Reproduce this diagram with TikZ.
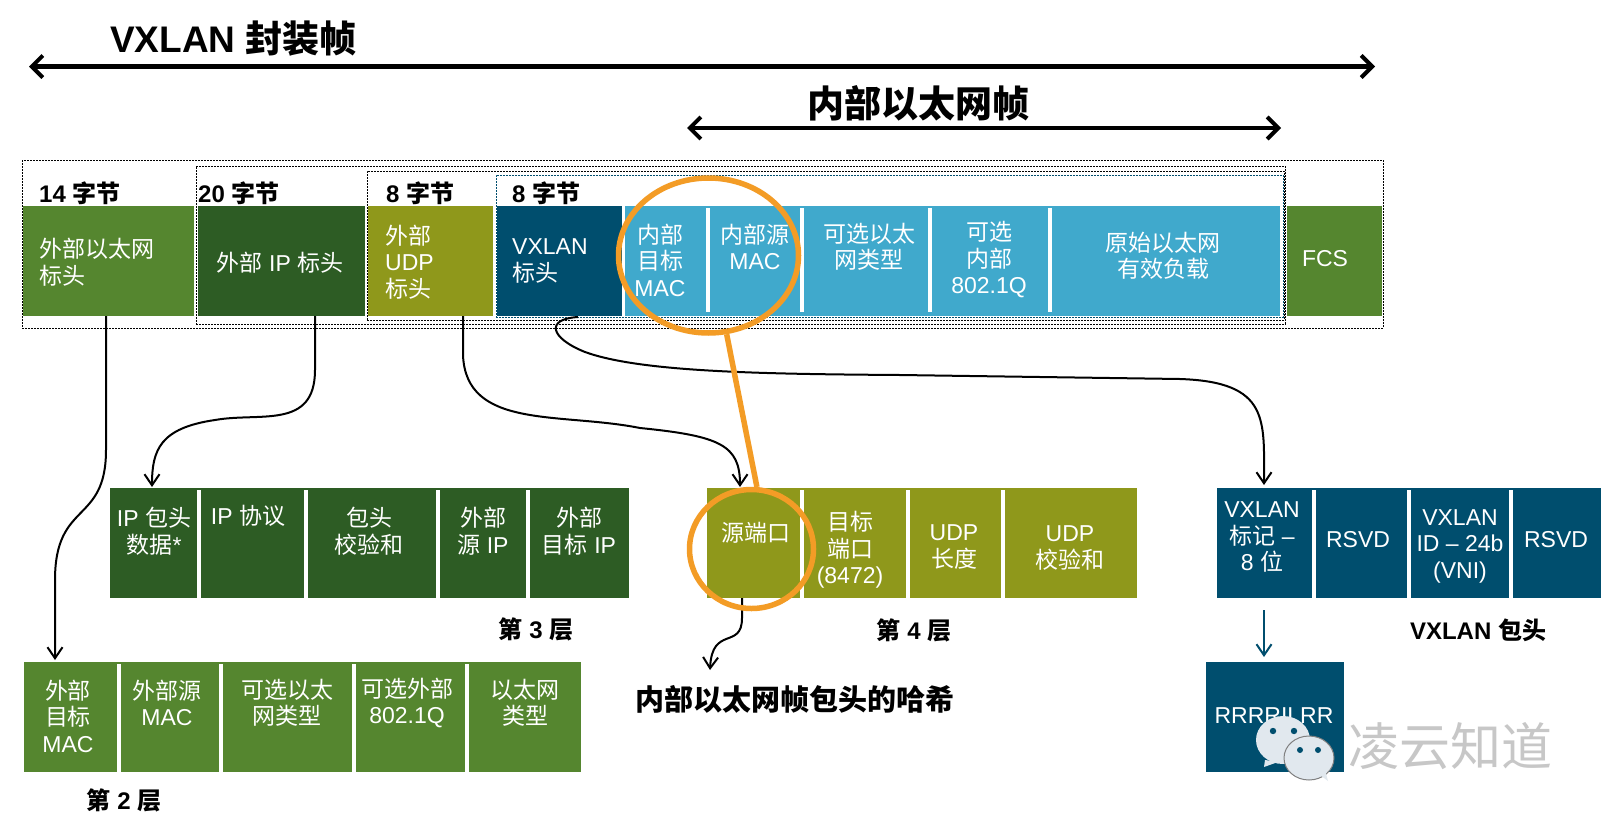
\documentclass[tikz,border=0pt]{standalone}
\usepackage{fontspec}
\setmainfont{Liberation Sans}
\newfontfamily\cjk{Noto Sans CJK SC}
\usetikzlibrary{arrows.meta,shapes.geometric}
\newcommand\C[1]{{\cjk #1}}
\definecolor{lgreen}{HTML}{55862F}
\definecolor{dgreen}{HTML}{2D5C24}
\definecolor{olive}{HTML}{8F981B}
\definecolor{navy}{HTML}{004E6E}
\definecolor{lblue}{HTML}{40A9CC}
\definecolor{orng}{HTML}{F39C26}
\definecolor{bubble}{HTML}{E1E8EE}
\tikzset{
  cellbox/.style={draw=none,inner sep=0pt,outer sep=0pt},
  celltext/.style={inner sep=0pt,align=center,text=white,font=\fontsize{23}{26.5}\selectfont},
  lefttext/.style={inner sep=0pt,align=left,anchor=west,text=white,font=\fontsize{23}{26.5}\selectfont},
  sizelabel/.style={inner sep=0pt,anchor=west,font=\bfseries\fontsize{24}{28}\selectfont},
  caption/.style={inner sep=0pt,font=\bfseries\fontsize{24}{28}\selectfont},
  bigtitle/.style={inner sep=0pt,font=\bfseries\fontsize{37}{42}\selectfont},
  dashbox/.style={draw=black,line width=0.8pt,dash pattern=on 2pt off 1pt,inner sep=0pt,fill=none},
  conn/.style={draw=black,line width=2pt,-{Straight Barb[length=11pt,width=15pt,line width=2pt]}},
  span/.style={draw=black,line width=4.5pt,{Straight Barb[length=11pt,width=22pt,line width=4pt]}-{Straight Barb[length=11pt,width=22pt,line width=4pt]}},
  hoop/.style={draw=orng,line width=5.5pt,ellipse,inner sep=0pt,fill=none},
}
\newcommand\Cell[6]{\node[cellbox,fill=#6,minimum width={(#4-#2)*1pt},minimum height={(#5-#3)*1pt}] (#1) at ({(#2+#4)/2},{(#3+#5)/2}) {};}
\newcommand\Sep[3]{\fill[white] (#1-2,#2) rectangle (#1+2,#3);}
\newcommand\Dash[5]{\node[dashbox,minimum width={(#4-#2)*1pt},minimum height={(#5-#3)*1pt}] (#1) at ({(#2+#4)/2},{(#3+#5)/2}) {};}
\begin{document}
\begin{tikzpicture}[x=1pt,y=-1pt]
\useasboundingbox (0,0) rectangle (1607,830);
\fill[white] (0,0) rectangle (1607,830);
% dashed frames
\Dash{fa}{22}{160.5}{1383}{328}
\Dash{fb}{196}{166}{1285}{324}
\Dash{fc}{367}{171}{1284}{320}
\node[dashbox,draw=navy,minimum width=787pt,minimum height=142pt] (fd) at (889.5,246) {};
% top row
\Cell{eth}{23}{206}{194}{316}{lgreen}
\Cell{ip}{197.5}{206}{365}{316}{dgreen}
\Cell{udp}{368}{206}{493}{316}{olive}
\Cell{vx}{496.5}{206}{622}{316}{navy}
\Cell{inner}{625}{206}{1280}{316}{lblue}
\Cell{fcs}{1287}{206}{1382}{316}{lgreen}
\Sep{708}{208}{312}\Sep{802}{208}{312}\Sep{930}{208}{312}\Sep{1050}{208}{312}
% L3 row
\Cell{rowip}{110}{488}{629}{598}{dgreen}
\Sep{199}{490}{598}\Sep{305.5}{490}{598}\Sep{438}{490}{598}\Sep{528}{490}{598}
% L4 row
\Cell{rowudp}{707}{488}{1137}{598}{olive}
\Sep{802}{490}{598}\Sep{908}{490}{598}\Sep{1003}{490}{598}
% VXLAN row
\Cell{rowvx}{1217}{488}{1601}{598}{navy}
\Sep{1314}{490}{598}\Sep{1409}{490}{598}\Sep{1511}{490}{598}
% L2 row
\Cell{roweth}{24}{662}{581}{772}{lgreen}
\Sep{119}{664}{772}\Sep{221}{664}{772}\Sep{354}{664}{772}\Sep{467}{664}{772}
% flags
\Cell{flags}{1206}{662}{1344}{772}{navy}
% spans
\coordinate (v1) at (29,66.5); \coordinate (v2) at (1375,66.5);
\coordinate (i1) at (687,128); \coordinate (i2) at (1281,128);
\draw[span] (v1) -- (v2);
\draw[span] (i1) -- (i2);
\node[bigtitle,anchor=west] (tv) at (110,39) {VXLAN \C{封装帧}};
\node[bigtitle] (ti) at (918,103) {\C{内部以太网帧}};
% size labels
\node[sizelabel] (s1) at (39,193) {14 \C{字节}};
\node[sizelabel] (s2) at (198,193) {20 \C{字节}};
\node[sizelabel] (s3) at (386,193) {8 \C{字节}};
\node[sizelabel] (s4) at (512,193) {8 \C{字节}};
% top-row text
\node[lefttext] (a1) at (39,262) {\C{外部以太网}\\\C{标头}};
\node[celltext] (a2) at (280,263) {\C{外部} IP \C{标头}};
\node[lefttext] (a3) at (385,262) {\C{外部}\\UDP\\\C{标头}};
\node[lefttext] (a4) at (512,261) {VXLAN\\\C{标头}};
\node[celltext] (a5) at (660,260) {\C{内部}\\\C{目标}\\MAC};
\node[celltext] (a6) at (755,247) {\C{内部源}\\MAC};
\node[celltext] (a7) at (869,247) {\C{可选以太}\\\C{网类型}};
\node[celltext] (a8) at (989,260) {\C{可选}\\\C{内部}\\802.1Q};
\node[celltext] (a9) at (1163,256) {\C{原始以太网}\\\C{有效负载}};
\node[celltext] (a10) at (1325,259) {FCS};
% L3 text
\node[celltext] (b1) at (154,531) {IP \C{包头}\\\C{数据}*};
\node[celltext] (b2) at (248,516) {IP \C{协议}};
\node[celltext] (b3) at (369,531) {\C{包头}\\\C{校验和}};
\node[celltext] (b4) at (483,531) {\C{外部}\\\C{源} IP};
\node[celltext] (b5) at (579,531) {\C{外部}\\\C{目标} IP};
% L4 text
\node[celltext] (c1) at (756,533) {\C{源端口}};
\node[celltext] (c2) at (850,550) {\C{目标}\\\C{端口}\\(8472)};
\node[celltext] (c3) at (954,547) {UDP\\\C{长度}};
\node[celltext] (c4) at (1070,548) {UDP\\\C{校验和}};
% VXLAN text
\node[celltext] (d1) at (1262,537) {VXLAN\\\C{标记} –\\8 \C{位}};
\node[celltext] (d2) at (1358,540) {RSVD};
\node[celltext] (d3) at (1460,546) {VXLAN\\ID – 24b\\(VNI)};
\node[celltext] (d4) at (1556,540) {RSVD};
% L2 text
\node[celltext] (e1) at (68,716) {\C{外部}\\\C{目标}\\MAC};
\node[celltext] (e2) at (167,703) {\C{外部源}\\MAC};
\node[celltext] (e3) at (287,703) {\C{可选以太}\\\C{网类型}};
\node[celltext] (e4) at (407,703) {\C{可选外部}\\802.1Q};
\node[celltext] (e5) at (525,703) {\C{以太网}\\\C{类型}};
\node[celltext] (f1) at (1274,716) {RRRRILRR};
% captions
\node[caption] (g3) at (536,629) {\C{第} 3 \C{层}};
\node[caption] (g4) at (914,630) {\C{第} 4 \C{层}};
\node[caption] (gv) at (1478,630) {VXLAN \C{包头}};
\node[caption] (g2) at (124,800) {\C{第} 2 \C{层}};
\node[inner sep=0pt,font=\bfseries\fontsize{29}{32}\selectfont] (hash) at (795,699) {\C{内部以太网帧包头的哈希}};
% connectors
\coordinate (p1) at (106,316); \coordinate (q1) at (55,660);
\draw[conn] (p1) -- (106,450) .. controls (106,525) and (55,500) .. (55,580) -- (q1);
\coordinate (p2) at (315,316); \coordinate (q2) at (152,487);
\draw[conn] (p2) -- (315,370) .. controls (315,430) and (260,412) .. (215,420) .. controls (160,428) and (152,450) .. (q2);
\coordinate (p3) at (463,316); \coordinate (q3) at (740,487);
\draw[conn] (p3) -- (463,355) .. controls (466,430) and (560,412) .. (640,428) .. controls (720,436) and (740,445) .. (q3);
\coordinate (p4) at (578,317); \coordinate (q4) at (1264,485);
\draw[conn] (p4) .. controls (545,319) and (550,338) .. (585,352) .. controls (640,372) and (760,374) .. (900,375) -- (1180,379) .. controls (1270,382) and (1264,420) .. (q4);
\coordinate (p5) at (742,598); \coordinate (q5) at (710,670);
\draw[conn] (p5) -- (742,618) .. controls (742,650) and (712,625) .. (710,670);
\coordinate (p6) at (1264,610); \coordinate (q6) at (1264,657);
\draw[draw=navy,line width=2pt,-{Straight Barb[length=11pt,width=15pt,line width=2pt]}] (p6) -- (q6);
% highlight
\node[hoop,minimum width=180pt,minimum height=155pt] (h1) at (708.5,255.5) {};
\node[hoop,minimum width=124pt,minimum height=119pt] (h2) at (751.5,549) {};
\draw[draw=orng,line width=5.5pt] (h1.283) -- (h2.85);
% watermark
\fill[bubble] (1283,740) ellipse (27 and 24);
\fill[bubble] (1265,760) -- (1264,767) -- (1278,762) -- cycle;
\fill[navy] (1273,731) circle (3.2) (1294,731) circle (3.2);
\draw[fill=bubble,draw=gray,line width=1pt] (1309,758) ellipse (25 and 22);
\fill[bubble] (1320,775) -- (1328,781) -- (1325,770) -- cycle;
\fill[navy] (1300,750) circle (3) (1318,750) circle (3);
\node[inner sep=0pt,text=black!22,font=\fontsize{51}{54}\selectfont] (wm) at (1450,746) {\C{凌云知道}};
\end{tikzpicture}
\end{document}
